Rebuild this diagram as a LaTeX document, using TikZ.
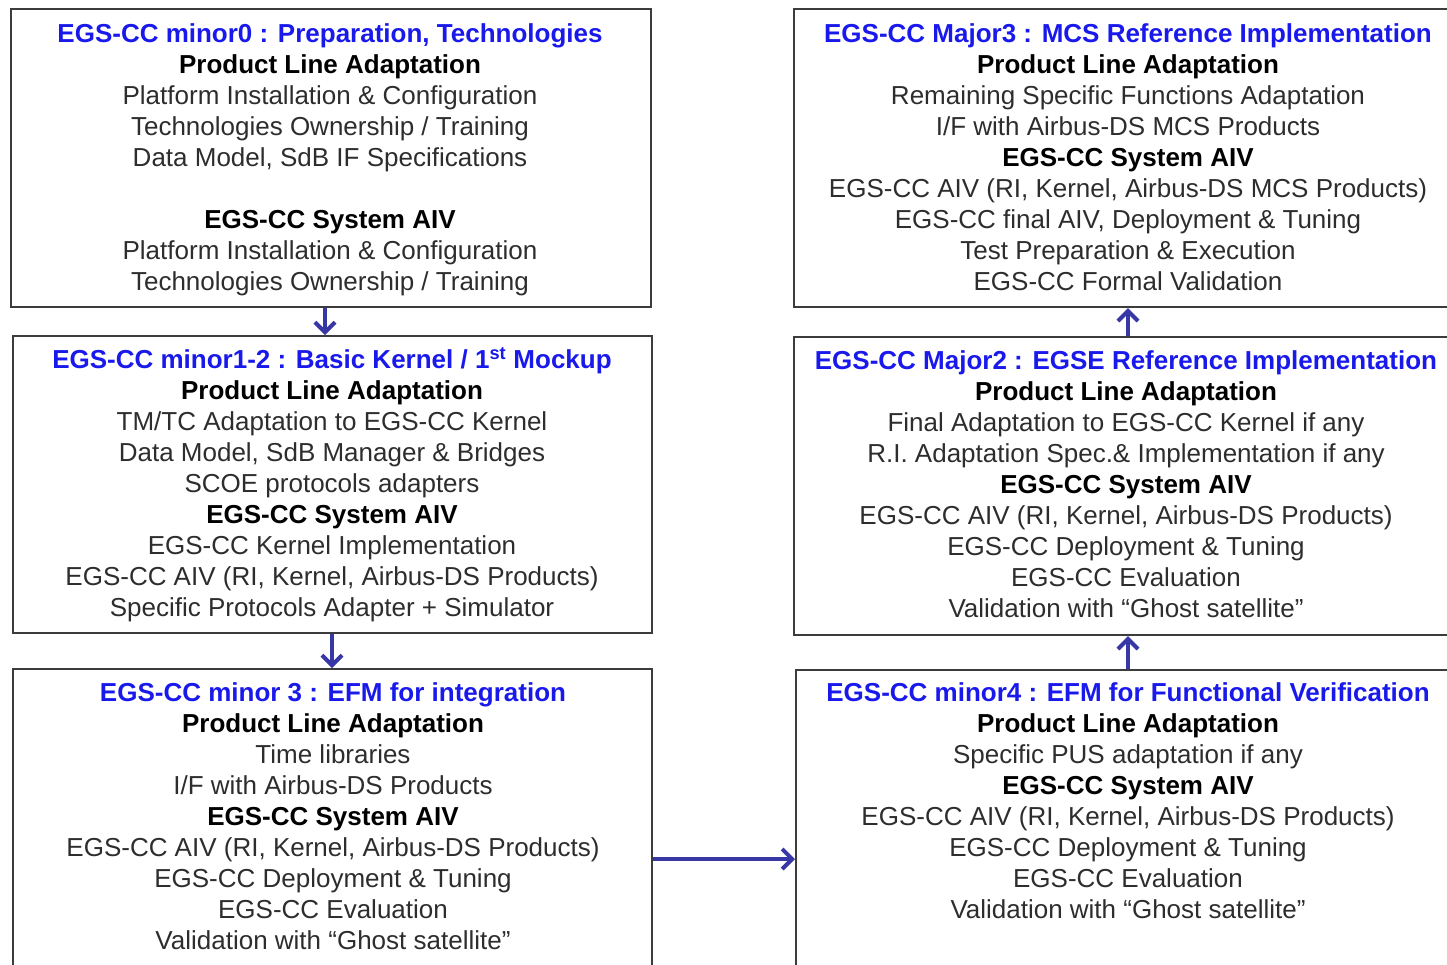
\documentclass[tikz,border=0pt]{standalone}
\usepackage{fontspec}
\setmainfont{Liberation Sans}
\usetikzlibrary{arrows.meta}
\definecolor{ttl}{RGB}{25,25,235}
\definecolor{arr}{RGB}{55,55,165}
\definecolor{edge}{RGB}{60,60,60}
\definecolor{txt}{RGB}{45,45,45}
\newcommand{\ttl}[1]{\textcolor{ttl}{\bfseries #1}}
\newcommand{\hd}[1]{\textcolor{black}{\bfseries #1}}
\begin{document}
\begin{tikzpicture}[x=1pt,y=-1pt,
  box/.style={draw=edge,line width=2.2pt,inner sep=0pt,anchor=north west},
  body/.style={anchor=north,inner sep=0pt,align=center,text=txt,font=\fontsize{26}{31}\selectfont},
  conn/.style={draw=arr,line width=3.5pt,-{Straight Barb[length=10pt,width=20pt,line width=4pt]}}]
\useasboundingbox (0,0) rectangle (1447,964);
\clip (0,0) rectangle (1447,964);
\node[box,minimum width=640pt,minimum height=298pt] (b1) at (10,8) {};
\node[box,minimum width=639pt,minimum height=297pt] (b2) at (12,335) {};
\node[box,minimum width=639pt,minimum height=330pt] (b3) at (12,668) {};
\node[box,minimum width=680pt,minimum height=298pt] (b4) at (793,8) {};
\node[box,minimum width=680pt,minimum height=298pt] (b5) at (793,336) {};
\node[box,minimum width=680pt,minimum height=330pt] (b6) at (795,669) {};

\node[body] (t1) at (330,20.6) {\strut\ttl{EGS-CC minor0 : Preparation, Technologies}\\
\hd{Product Line Adaptation}\\
Platform Installation \& Configuration\\
Technologies Ownership / Training\\
Data Model, SdB IF Specifications\\
\mbox{}\\
\hd{EGS-CC System AIV}\\
Platform Installation \& Configuration\\
Technologies Ownership / Training};

\node[body] (t2) at (332,346.6) {\strut\ttl{EGS-CC minor1-2 : Basic Kernel / 1\textsuperscript{st} Mockup}\\
\hd{Product Line Adaptation}\\
TM/TC Adaptation to EGS-CC Kernel\\
Data Model, SdB Manager \& Bridges\\
SCOE protocols adapters\\
\hd{EGS-CC System AIV}\\
EGS-CC Kernel Implementation\\
EGS-CC AIV (RI, Kernel, Airbus-DS Products)\\
Specific Protocols Adapter + Simulator};

\node[body] (t3) at (333,679.6) {\strut\ttl{EGS-CC minor 3 : EFM for integration}\\
\hd{Product Line Adaptation}\\
Time libraries\\
I/F with Airbus-DS Products\\
\hd{EGS-CC System AIV}\\
EGS-CC AIV (RI, Kernel, Airbus-DS Products)\\
EGS-CC Deployment \& Tuning\\
EGS-CC Evaluation\\
Validation with “Ghost satellite”};

\node[body] (t4) at (1128,20.6) {\strut\ttl{EGS-CC Major3 : MCS Reference Implementation}\\
\hd{Product Line Adaptation}\\
Remaining Specific Functions Adaptation\\
I/F with Airbus-DS MCS Products\\
\hd{EGS-CC System AIV}\\
EGS-CC AIV (RI, Kernel, Airbus-DS MCS Products)\\
EGS-CC final AIV, Deployment \& Tuning\\
Test Preparation \& Execution\\
EGS-CC Formal Validation};

\node[body] (t5) at (1126,347.6) {\strut\ttl{EGS-CC Major2 : EGSE Reference Implementation}\\
\hd{Product Line Adaptation}\\
Final Adaptation to EGS-CC Kernel if any\\
R.I. Adaptation Spec.\& Implementation if any\\
\hd{EGS-CC System AIV}\\
EGS-CC AIV (RI, Kernel, Airbus-DS Products)\\
EGS-CC Deployment \& Tuning\\
EGS-CC Evaluation\\
Validation with “Ghost satellite”};

\node[body] (t6) at (1128,679.6) {\strut\ttl{EGS-CC minor4 : EFM for Functional Verification}\\
\hd{Product Line Adaptation}\\
Specific PUS adaptation if any\\
\hd{EGS-CC System AIV}\\
EGS-CC AIV (RI, Kernel, Airbus-DS Products)\\
EGS-CC Deployment \& Tuning\\
EGS-CC Evaluation\\
Validation with “Ghost satellite”};

\draw[conn] (325,0 |- b1.south) -- (325,0 |- b2.north);
\draw[conn] (332,0 |- b2.south) -- (332,0 |- b3.north);
\draw[conn] (1128,0 |- b6.north) -- (1128,0 |- b5.south);
\draw[conn] (1128,0 |- b5.north) -- (1128,0 |- b4.south);
\draw[conn] (b3.east |- 0,859) -- (b6.west |- 0,859);
\end{tikzpicture}
\end{document}
